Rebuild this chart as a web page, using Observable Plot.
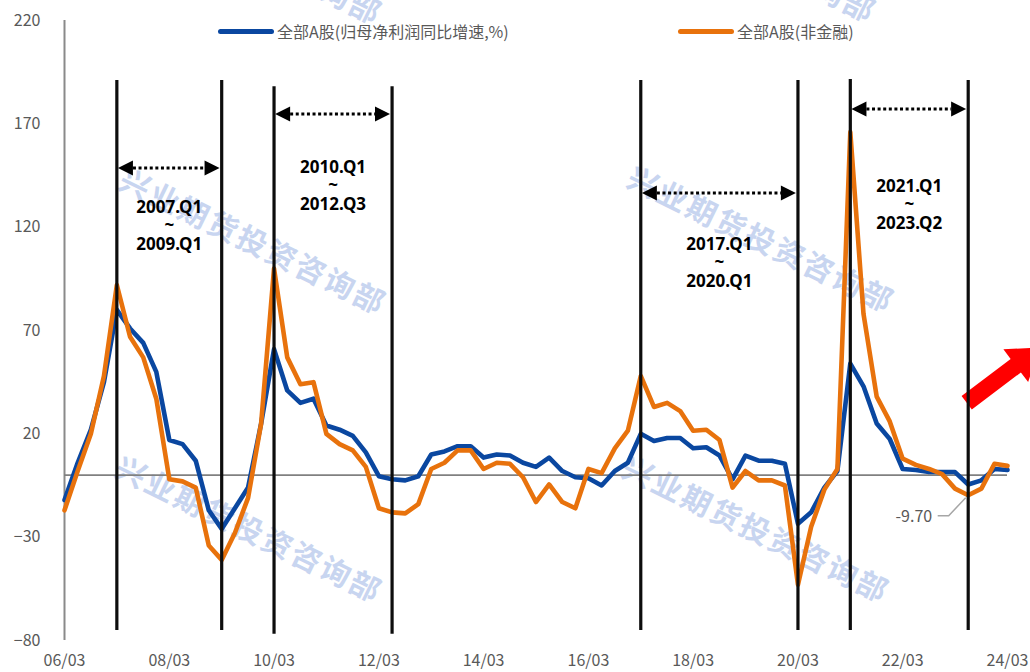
<!DOCTYPE html>
<html>
<head>
<meta charset="utf-8">
<script src="https://cdn.jsdelivr.net/npm/d3@7"></script>
<script src="https://cdn.jsdelivr.net/npm/@observablehq/plot@0.6"></script>
<style>
  html, body { margin: 0; padding: 0; background: #fff; }
  #wrap { position: relative; width: 1030px; height: 672px; overflow: hidden; font-family: "Noto Sans CJK SC", "Noto Sans", sans-serif; }
  .wm { position: absolute; white-space: nowrap; font-weight: 700; font-size: 30px; letter-spacing: 2.5px; color: #c8d5f0; transform: translate(-50%, -50%) rotate(26deg); z-index: 0; }
  #chart { position: absolute; left: 0; top: 0; z-index: 1; }
  .leg { position: absolute; z-index: 2; display: flex; align-items: center; font-size: 16px; color: #595959; white-space: nowrap; }
  .sw { display: inline-block; width: 56px; height: 5px; border-radius: 3px; margin-right: 3px; }
</style>
</head>
<body>
<div id="wrap"></div>
<script>
// ---------------- data ----------------
const seriesNames = ["全部A股(归母净利润同比增速,%)", "全部A股(非金融)"];
const seriesColors = ["#0a47a0", "#e8720c"];

// quarterly, 2006/03 ... 2024/03 (73 quarters)
const allA = [
  -12, 6, 22, 45, 80, 71, 64, 50, 17, 15, 7, -17,
  -26, -16, -6, 25, 61, 41, 35, 37, 24, 22, 19, 11,
  -0.5, -2, -2.5, -0.5, 10, 11.5, 14, 14, 8.5, 10, 9.5, 6,
  4, 8.5, 2, -1, -1.5, -5, 2, 6, 20, 16.5, 18, 18,
  13, 13.5, 9.5, -2, 9.5, 7, 7, 5.5, -23.5, -18, -6, 2,
  54, 43, 25, 17.5, 3, 2.5, 1.5, 1.5, 1.5, -4.5, -2.5, 3, 2.5
];
const nonFin = [
  -17, 2, 20, 48, 92, 67, 57, 37, -2, -3, -6, -34,
  -41, -28, -11, 25, 100, 57, 44, 45, 20, 15, 12, 4,
  -16, -18, -18.5, -14, 3, 6, 12, 12, 3, 6, 5.5, -1,
  -13, -4.5, -13, -16, 3, 1, 13, 21.5, 48, 33, 35, 31,
  21.5, 22, 17, -6, 2, -2.5, -2.5, -5, -53, -25, -7, 3,
  166, 78, 38, 26, 8, 5, 3, 0.5, -6.5, -9.7, -6.5, 5.5, 4.5
];

const yTicks = [-80, -30, 20, 70, 120, 170, 220];
const xTickDates = ["2006-03-01","2008-03-01","2010-03-01","2012-03-01","2014-03-01","2016-03-01","2018-03-01","2020-03-01","2022-03-01","2024-03-01"];

// vertical period lines
const vlineDates = ["2007-03-01","2009-03-01","2010-03-01","2012-06-01","2017-03-01","2020-03-01","2021-03-01","2023-06-01"];
const vlineTops = [191, 191, 188, 188, 191, 191, 191.5, 191];
const vlineBottoms = [-75.2, -75.2, -77, -77, -75.2, -75.2, -75.2, -75.2];

// period brackets
const bracketStarts = ["2007-03-01","2010-03-01","2017-03-01","2021-03-01"];
const bracketEnds = ["2009-03-01","2012-06-01","2020-03-01","2023-06-01"];
const bracketY = [148.4, 174.5, 136.3, 176.9];
const bracketLabels = ["2007.Q1\n~\n2009.Q1", "2010.Q1\n~\n2012.Q3", "2017.Q1\n~\n2020.Q1", "2021.Q1\n~\n2023.Q2"];
const bracketLabelY = [120.8, 140.2, 102.9, 131];

// highlighted value
const calloutIndex = 69;

// red trend arrow (tail -> tip)
const trendArrowDates = ["2023-05-25", "2024-10-15"];
const trendArrowValues = [34.8, 61.5];

const watermarkText = "兴业期货投资咨询部";

// ---------------- build ----------------
const quarters = d3.range(allA.length).map(i => new Date(Date.UTC(2006, 2 + 3 * i, 1)));
const toDate = s => new Date(s + "T00:00:00Z");

const rows = quarters.map((d, i) => ({date: d, value: allA[i]}));
const rows2 = quarters.map((d, i) => ({date: d, value: nonFin[i]}));
const vlines = vlineDates.map((s, i) => ({date: toDate(s), top: vlineTops[i], bottom: vlineBottoms[i]}));
const brackets = bracketStarts.map((s, i) => {
  const a = toDate(s), b = toDate(bracketEnds[i]);
  return {a, b, mid: new Date((+a + +b) / 2), y: bracketY[i], label: bracketLabels[i], labelY: bracketLabelY[i]};
});

function bracketMark(index, scales) {
  const g = d3.create("svg:g");
  const head = 15, half = 7.5, lw = 1.6;
  for (const b of brackets) {
    const xa = scales.x(b.a) + lw, xb = scales.x(b.b) - lw, y = scales.y(b.y);
    g.append("line").attr("x1", xa + head).attr("x2", xb - head).attr("y1", y).attr("y2", y)
      .attr("stroke", "#000").attr("stroke-width", 3).attr("stroke-dasharray", "3,2.6");
    g.append("path").attr("d", `M${xa},${y}L${xa + head},${y - half}L${xa + head},${y + half}Z`).attr("fill", "#000");
    g.append("path").attr("d", `M${xb},${y}L${xb - head},${y - half}L${xb - head},${y + half}Z`).attr("fill", "#000");
  }
  return g.node();
}

function trendArrowMark(index, scales) {
  const sx = scales.x(toDate(trendArrowDates[0])), sy = scales.y(trendArrowValues[0]);
  const tx = scales.x(toDate(trendArrowDates[1])), ty = scales.y(trendArrowValues[1]);
  const L = Math.hypot(tx - sx, ty - sy);
  const ux = (tx - sx) / L, uy = (ty - sy) / L;
  const nx = -uy, ny = ux;
  const sw = 8.5, hw = 20.5, hl = 30;
  const bx = tx - ux * hl, by = ty - uy * hl;
  const pts = [
    [sx + nx * sw, sy + ny * sw], [bx + nx * sw, by + ny * sw], [bx + nx * hw, by + ny * hw],
    [tx, ty], [bx - nx * hw, by - ny * hw], [bx - nx * sw, by - ny * sw], [sx - nx * sw, sy - ny * sw]
  ];
  const g = d3.create("svg:g");
  g.append("path").attr("d", "M" + pts.map(p => p.join(",")).join("L") + "Z").attr("fill", "#ff0000");
  return g.node();
}

function leaderMark(index, scales) {
  const px = scales.x(quarters[calloutIndex]), py = scales.y(nonFin[calloutIndex]);
  const g = d3.create("svg:g");
  g.append("path").attr("d", `M${px - 2},${py + 3}L${px - 19},${py + 21}L${px - 30},${py + 21}`)
    .attr("fill", "none").attr("stroke", "#a6a6a6").attr("stroke-width", 1.5);
  return g.node();
}

const chart = Plot.plot({
  width: 1030,
  height: 672,
  marginLeft: 64,
  marginRight: 23,
  marginTop: 20,
  marginBottom: 32,
  style: {fontFamily: '"Noto Sans CJK SC","Noto Sans",sans-serif', fontSize: "16px", color: "#595959", background: "transparent", overflow: "visible"},
  x: {type: "utc", domain: [quarters[0], quarters[quarters.length - 1]], ticks: xTickDates.map(toDate), tickFormat: d3.utcFormat("%y/%m"), tickSize: 0, tickPadding: 14, label: null},
  y: {domain: [-80, 220], ticks: yTicks, tickSize: 0, tickPadding: 24, label: null},
  marks: [
    Plot.ruleX([quarters[0]], {y1: -80, y2: 220, stroke: "#8a8a8a", strokeWidth: 2}),
    Plot.ruleY([0], {stroke: "#808080", strokeWidth: 1.8}),
    trendArrowMark,
    Plot.line(rows, {x: "date", y: "value", stroke: seriesColors[0], strokeWidth: 4.6, strokeLinejoin: "round"}),
    Plot.line(rows2, {x: "date", y: "value", stroke: seriesColors[1], strokeWidth: 4.6, strokeLinejoin: "round"}),
    Plot.ruleX(vlines, {x: "date", y1: "bottom", y2: "top", stroke: "#0d0d0d", strokeWidth: 3.2}),
    bracketMark,
    Plot.text(brackets, {x: "mid", y: "labelY", text: "label", fontSize: 17, fontWeight: "bold", fill: "#000", lineHeight: 1.1, fontFamily: '"Noto Sans","Open Sans",sans-serif'}),
    leaderMark,
    Plot.text([calloutIndex], {x: i => quarters[i], y: i => nonFin[i], text: i => nonFin[i].toFixed(2), dx: -36, dy: 22, textAnchor: "end", fill: "#595959", fontSize: 16})
  ]
});
chart.id = "chart";

const wrap = document.getElementById("wrap");
const wmCenters = [[250, -50], [744, -52], [254, 240], [762, 238], [250, 528], [757, 528]];
for (const [cx, cy] of wmCenters) {
  const d = document.createElement("div");
  d.className = "wm";
  d.textContent = watermarkText;
  d.style.left = cx + "px";
  d.style.top = cy + "px";
  wrap.appendChild(d);
}
wrap.appendChild(chart);

const legPos = [[218, 19], [678, 19]];
seriesNames.forEach((name, i) => {
  const l = document.createElement("div");
  l.className = "leg";
  l.style.left = legPos[i][0] + "px";
  l.style.top = legPos[i][1] + "px";
  const sw = document.createElement("span");
  sw.className = "sw";
  sw.style.background = seriesColors[i];
  const t = document.createElement("span");
  t.textContent = name;
  l.appendChild(sw);
  l.appendChild(t);
  wrap.appendChild(l);
});
</script>
</body>
</html>
